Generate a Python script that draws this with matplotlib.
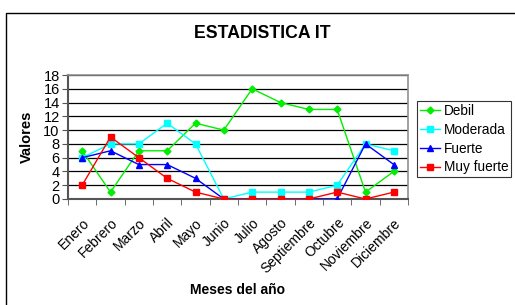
import matplotlib
matplotlib.use("Agg")
import matplotlib.pyplot as plt
from matplotlib.patches import Rectangle
import numpy as np

plt.rcParams['font.family'] = ['Liberation Sans', 'DejaVu Sans']

meses = ["Enero", "Febrero", "Marzo", "Abril", "Mayo", "Junio", "Julio",
         "Agosto", "Septiembre", "Octubre", "Noviembre", "Diciembre"]
debil = [7, 1, 7, 7, 11, 10, 16, 14, 13, 13, 1, 4]
moderada = [6, 8, 8, 11, 8, 0, 1, 1, 1, 2, 8, 7]
fuerte = [6, 7, 5, 5, 3, 0, 0, 0, 0, 0, 8, 5]
muy_fuerte = [2, 9, 6, 3, 1, 0, 0, 0, 0, 1, 0, 1]

W, H = 515, 305
fig = plt.figure(figsize=(W / 100, H / 100), dpi=100)

# outer chart border (only top and left visible)
fig.add_artist(Rectangle((6 / W, -0.2), 1.2, 1 - 13 / H + 0.2, transform=fig.transFigure,
                         fill=False, edgecolor='black', lw=1.0))

ax = fig.add_axes([68 / W, 1 - 199 / H, (408 - 68) / W, (199 - 75) / H])
x = np.arange(len(meses))

ax.plot(x, debil, color='#00EE00', marker='D', ms=3.5, lw=1.0, label='Debil', zorder=3)
ax.plot(x, moderada, color='#00FFFF', marker='s', ms=4, lw=1.0, label='Moderada', zorder=4)
ax.plot(x, fuerte, color='#0000FF', marker='^', ms=4.5, lw=1.0, label='Fuerte', zorder=5)
ax.plot(x, muy_fuerte, color='#FF0000', marker='s', ms=4, lw=1.0, label='Muy fuerte', zorder=6)

ax.set_xlim(-0.5, len(meses) - 0.5)
ax.set_ylim(0, 18)
ax.set_yticks(np.arange(0, 19, 2))
ax.yaxis.grid(True, color='black', lw=0.9)
ax.set_axisbelow(True)

ax.set_xticks(x)
ax.set_xticklabels(meses, rotation=45, ha='right', rotation_mode='anchor', fontsize=10)
ax.set_xticks(np.arange(-0.5, len(meses), 1), minor=True)
ax.tick_params(axis='x', which='major', length=0, pad=12)
ax.tick_params(axis='x', which='minor', length=4, direction='out', color='#555555')
ax.tick_params(axis='y', length=4, direction='out', color='#555555', labelsize=10.5, pad=2)

for s in ['top', 'right']:
    ax.spines[s].set_color('#909090')
    ax.spines[s].set_linewidth(1.2)
for s in ['left', 'bottom']:
    ax.spines[s].set_color('#555555')
    ax.spines[s].set_linewidth(1.5)

fig.text(262 / W, 1 - 34 / H, "ESTADISTICA IT", ha='center', va='center',
         fontsize=12.7, fontweight='bold')
fig.text(27 / W, 1 - 137 / H, "Valores", ha='center', va='center', rotation=90,
         fontsize=10.5, fontweight='bold')
fig.text(238 / W, 1 - 290 / H, "Meses del año", ha='center', va='center',
         fontsize=10, fontweight='bold')

leg = fig.legend(loc='lower left', bbox_to_anchor=(417 / W, 1 - 177 / H),
                 bbox_transform=fig.transFigure, frameon=True, fancybox=False,
                 fontsize=9.8, handlelength=1.5, handletextpad=0.25,
                 borderpad=0.2, labelspacing=0.35, borderaxespad=0)
leg.get_frame().set_edgecolor('black')
leg.get_frame().set_linewidth(0.8)

fig.savefig("out.png", dpi=100)
